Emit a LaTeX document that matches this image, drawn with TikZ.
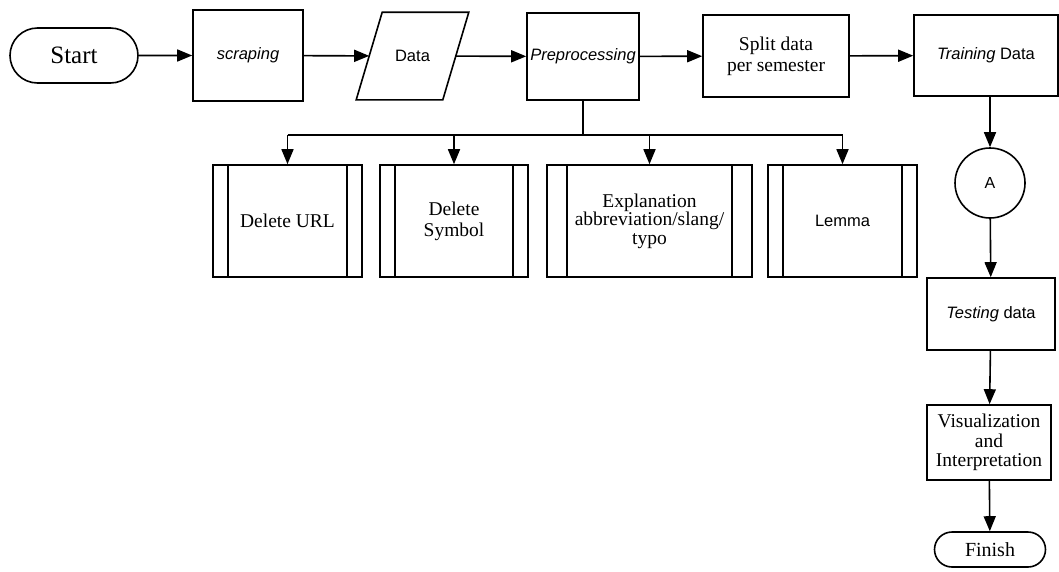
\documentclass[tikz,border=0pt]{standalone}
\usepackage{fontspec}
\setmainfont{Liberation Serif}
\setsansfont{Liberation Sans}
\usetikzlibrary{arrows.meta,shapes.misc}

\tikzset{
  box/.style={draw,rectangle,align=center,inner sep=0pt,
    font=\fontsize{19.5pt}{21pt}\selectfont},
  sbox/.style={box,font=\fontsize{16.5pt}{19pt}\selectfont\sffamily},
  term/.style={draw,rounded rectangle,inner sep=0pt,
    font=\fontsize{20pt}{22pt}\selectfont},
  % subroutine box: two inner bars, #1 = bar offset
  subbox/.style={box,minimum height=112pt,path picture={
    \draw ([xshift=#1]path picture bounding box.north west) -- ([xshift=#1]path picture bounding box.south west);
    \draw ([xshift=-#1]path picture bounding box.north east) -- ([xshift=-#1]path picture bounding box.south east);}},
  subbox/.default=15pt,
  arr/.style={-{Triangle[length=15pt,width=12pt]}}
}

\begin{document}
\begin{tikzpicture}[x=1pt,y=-1pt,line width=1.6pt]
  \path[use as bounding box] (0,0) rectangle (1059,571);  % source canvas 1059x571px
  % ---- top row ----
  \node[term,minimum width=128pt,minimum height=55pt,font=\fontsize{25pt}{25pt}\selectfont] (start) at (74,55.5) {Start};
  \node[sbox,minimum width=110pt,minimum height=91pt] (scrap) at (248,55.5) {\itshape scraping};
  % data: node box = mid-height width of the parallelogram, outline drawn after
  \node[sbox,draw=none,minimum width=85pt,minimum height=86pt] (data) at (412.5,56) {Data};
  \draw ([xshift=13pt]data.north west) -- ([xshift=13pt]data.north east)
     -- ([xshift=-13pt]data.south east) -- ([xshift=-13pt]data.south west) -- cycle;
  \node[sbox,minimum width=112pt,minimum height=87pt] (prep) at (583,56.5) {\itshape Preprocessing};
  \node[box,minimum width=146pt,minimum height=82pt] (split) at (776,56) {Split data\\per semester};
  \node[sbox,minimum width=144pt,minimum height=81pt] (train) at (986,55.5) {{\itshape Training} Data};
  % ---- preprocessing steps ----
  \node[subbox,minimum width=149pt] (delurl) at (287.5,221) {Delete URL};
  \node[subbox,minimum width=148pt] (delsym) at (454,221) {Delete\\Symbol};
  \node[subbox=20pt,minimum width=205pt,font=\fontsize{19.5pt}{18.5pt}\selectfont] (expl) at (649.5,221) {Explanation\\abbreviation/slang/\\typo};
  \node[subbox,minimum width=149pt,font=\fontsize{16.5pt}{19pt}\selectfont\sffamily] (lemma) at (842.5,221) {Lemma};
  % ---- right column ----
  \node[draw,circle,minimum size=70pt,inner sep=0pt,font=\fontsize{16pt}{18pt}\selectfont\sffamily] (conA) at (990,183) {A};
  \node[sbox,minimum width=128pt,minimum height=72pt] (test) at (991,314) {{\itshape Testing} data};
  \node[box,minimum width=124pt,minimum height=75pt,font=\fontsize{19.5pt}{19.5pt}\selectfont] (vis) at (989,442.5) {Visualization\\and\\Interpretation};
  \node[term,minimum width=111pt,minimum height=35pt] (fin) at (990,549.5) {Finish};
  % ---- connectors ----
  \draw[arr] (start) -- (scrap);
  \draw[arr] (scrap) -- (data);
  \draw[arr] (data) -- (prep);
  \draw[arr] (prep) -- (split);
  \draw[arr] (split) -- (train);
  \coordinate (bus) at ([yshift=-34pt]prep.south);
  \draw (prep.south) -- (bus);
  \draw (delurl.north |- bus) -- (lemma.north |- bus);
  \foreach \s in {delurl,delsym,expl,lemma} \draw[arr] (\s.north |- bus) -- (\s.north);
  \draw[arr] (conA.north |- train.south) -- (conA.north);
  \draw[arr] (conA) -- (test);
  \draw[arr] (test) -- (vis);
  \draw[arr] (vis) -- (fin);
\end{tikzpicture}
\end{document}
